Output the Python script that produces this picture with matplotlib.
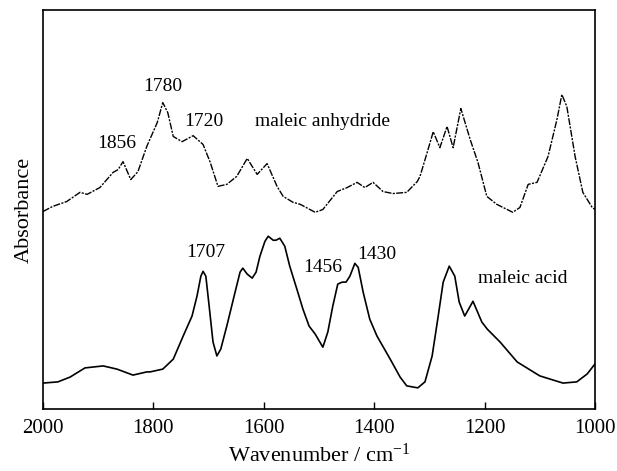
import numpy as np
import matplotlib
matplotlib.use('Agg')
import matplotlib.pyplot as plt

plt.rcParams['font.family'] = ['Liberation Serif', 'DejaVu Serif']
plt.rcParams['mathtext.fontset'] = 'custom'
plt.rcParams['mathtext.rm'] = 'Liberation Serif'
plt.rcParams['mathtext.it'] = 'Liberation Serif:italic'

# maleic anhydride spectrum (arbitrary absorbance units)
anhydride_wn = [2000, 1982, 1957, 1933, 1920, 1897, 1873, 1864, 1855, 1841,
                1828, 1812, 1793, 1783, 1774, 1764, 1748, 1728, 1710, 1697,
                1683, 1667, 1649, 1630, 1612, 1594, 1576, 1565, 1547, 1534,
                1507, 1493, 1467, 1449, 1431, 1417, 1402, 1384, 1366, 1341,
                1322, 1317, 1304, 1293, 1281, 1268, 1257, 1243, 1226, 1212,
                1196, 1178, 1149, 1136, 1121, 1105, 1085, 1069, 1060, 1051,
                1036, 1022, 1005, 1000]
anhydride_abs = [0.495, 0.508, 0.520, 0.543, 0.538, 0.555, 0.593, 0.600, 0.620, 0.575,
                 0.595, 0.658, 0.718, 0.768, 0.743, 0.683, 0.670, 0.685, 0.663, 0.618,
                 0.558, 0.563, 0.583, 0.628, 0.588, 0.615, 0.558, 0.533, 0.518, 0.513,
                 0.493, 0.500, 0.545, 0.555, 0.568, 0.555, 0.568, 0.545, 0.540, 0.543,
                 0.570, 0.583, 0.643, 0.695, 0.655, 0.708, 0.655, 0.753, 0.675, 0.618,
                 0.533, 0.513, 0.493, 0.505, 0.563, 0.568, 0.633, 0.725, 0.788, 0.758,
                 0.633, 0.543, 0.505, 0.500]

# maleic acid spectrum
acid_wn = [2000, 1973, 1951, 1924, 1891, 1866, 1837, 1812, 1806, 1783,
           1764, 1746, 1730, 1721, 1714, 1710, 1705, 1699, 1692, 1685,
           1678, 1667, 1652, 1643, 1638, 1630, 1621, 1614, 1607, 1598,
           1592, 1583, 1578, 1571, 1562, 1553, 1540, 1529, 1518, 1507,
           1493, 1484, 1475, 1466, 1458, 1451, 1444, 1435, 1429, 1420,
           1408, 1395, 1371, 1353, 1341, 1321, 1308, 1295, 1284, 1275,
           1264, 1254, 1246, 1236, 1221, 1205, 1195, 1172, 1141, 1100,
           1058, 1033, 1014, 1000]
acid_abs = [0.065, 0.068, 0.080, 0.103, 0.108, 0.100, 0.085, 0.093, 0.093, 0.100,
            0.125, 0.183, 0.233, 0.283, 0.333, 0.345, 0.333, 0.258, 0.168, 0.133,
            0.150, 0.208, 0.293, 0.343, 0.353, 0.338, 0.328, 0.343, 0.383, 0.420,
            0.433, 0.423, 0.423, 0.428, 0.408, 0.358, 0.300, 0.250, 0.208, 0.188,
            0.155, 0.193, 0.258, 0.313, 0.318, 0.318, 0.333, 0.365, 0.355, 0.293,
            0.225, 0.183, 0.125, 0.080, 0.058, 0.053, 0.068, 0.133, 0.233, 0.318,
            0.358, 0.333, 0.268, 0.233, 0.270, 0.218, 0.200, 0.168, 0.118, 0.083,
            0.065, 0.068, 0.088, 0.113]

# peak labels: (text, wavenumber, absorbance)
labels = [('1856', 1866, 0.665), ('1780', 1783, 0.807), ('1720', 1708, 0.720),
          ('maleic anhydride', 1493, 0.720),
          ('1707', 1705, 0.393), ('1456', 1493, 0.355), ('1430', 1396, 0.388),
          ('maleic acid', 1131, 0.328)]

fig = plt.figure(figsize=(6.17, 4.71), dpi=100)
ax = fig.add_axes([0.0697, 0.1316, 0.8946, 0.8472])

ax.plot(anhydride_wn, anhydride_abs, color='black', lw=1.0,
        dashes=(5, 1, 1.5, 1))
ax.plot(acid_wn, acid_abs, color='black', lw=1.2)

for txt, x, y in labels:
    ax.text(x, y, txt, fontsize=14, ha='center', va='center')

ax.set_xlim(2000, 1000)
ax.set_ylim(0, 1)
ax.set_xticks([2000, 1800, 1600, 1400, 1200, 1000])
ax.set_yticks([])
ax.tick_params(axis='x', direction='in', length=5, width=1, labelsize=15, pad=7)
for s in ax.spines.values():
    s.set_linewidth(1.2)

ax.set_xlabel('Wavenumber / cm$^{-1}$', fontsize=16, labelpad=4)
ax.set_ylabel('Absorbance', fontsize=16, labelpad=7)

fig.savefig('out.png', dpi=100)
